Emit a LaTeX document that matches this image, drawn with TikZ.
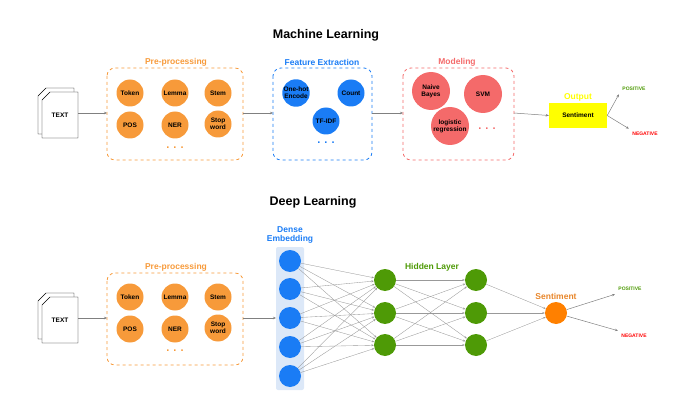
\documentclass[tikz,border=0pt]{standalone}
\usepackage{fontspec}
\setmainfont{Liberation Sans}
\usetikzlibrary{arrows.meta,calc}
\definecolor{mlorange}{HTML}{F79A3A}
\definecolor{mlblue}{HTML}{1A7CF5}
\definecolor{mlred}{HTML}{F46A6A}
\definecolor{mlgreen}{HTML}{4E9A06}
\definecolor{mlyellow}{HTML}{FFFF00}
\definecolor{bandblue}{HTML}{DCE8F8}
\definecolor{darkorange}{HTML}{E8862A}
\tikzset{
  ball/.style={circle,inner sep=0pt,minimum size=#1,align=center,font=\fontsize{6.5}{7}\selectfont\bfseries},
  grouper/.style={draw=#1,dashed,thick,rounded corners=8pt},
  conn/.style={draw=gray,-{Stealth[length=3pt,width=2.5pt]},line width=0.5pt},
  net/.style={draw=gray!80,line width=0.35pt,-{Stealth[length=2.5pt,width=2pt]}},
  tag/.style={font=\fontsize{8.5}{9}\selectfont\bfseries},
  small/.style={font=\fontsize{5}{5.5}\selectfont\bfseries},
  dots/.style={font=\fontsize{11}{11}\selectfont\bfseries}
}
\newcommand{\docicon}[2]{%
  \fill[white,draw=black] ($(#1)+(-14,-25)$) -- ($(#1)+(14,-25)$) -- ($(#1)+(14,21)$) -- ($(#1)+(-22,21)$) -- ($(#1)+(-22,-17)$) -- cycle;
  \fill[white,draw=black] ($(#1)+(-10,-21)$) -- ($(#1)+(18,-21)$) -- ($(#1)+(18,25)$) -- ($(#1)+(-18,25)$) -- ($(#1)+(-18,-13)$) -- cycle;
  \node[ball=1pt] (#2) at ($(#1)+(0,2)$) {TEXT};}
\begin{document}
\begin{tikzpicture}[x=1pt,y=-1pt]
\useasboundingbox (0,0) rectangle (691,401);

% Titles
\node[font=\fontsize{12.5}{13}\selectfont\bfseries] (mltitle) at (326,35) {Machine Learning};
\node[font=\fontsize{12.5}{13}\selectfont\bfseries] (dltitle) at (313,202) {Deep Learning};

%%% Machine learning row
\docicon{60,113}{mltext}
\coordinate (mldocR) at (78,113);

% Pre-processing
\draw[grouper=mlorange] (107,68) rectangle (243,160);
\node[tag,text=mlorange] (mlpre) at (176,62) {Pre-processing};
\foreach \name/\lab/\x/\y in {tok/Token/130/93,lem/Lemma/175/93,stem/Stem/218/93,pos/POS/130/125,ner/NER/175/125,stop/Stop\\word/218/124}
  \node[ball=27pt,fill=mlorange] (ml\name) at (\x,\y) {\lab};
\node[dots,text=mlorange] (mldots) at (175,148) {. . .};

% Feature extraction
\draw[grouper=mlblue] (273,68) rectangle (372,160);
\node[tag,text=mlblue] (mlfeat) at (322,62) {Feature Extraction};
\node[ball=27pt,fill=mlblue] (onehot) at (296,93) {One-hot\\Encode};
\node[ball=27pt,fill=mlblue] (count) at (351,93) {Count};
\node[ball=27pt,fill=mlblue] (tfidf) at (326,121) {TF-IDF};
\node[dots,text=mlblue] (featdots) at (326,143) {. . .};

% Modeling
\draw[grouper=mlred] (403,68) rectangle (514,160);
\node[tag,text=mlred] (mlmod) at (457,62) {Modeling};
\node[ball=38pt,fill=mlred] (bayes) at (431,91) {Naive\\Bayes};
\node[ball=38pt,fill=mlred] (svm) at (483,94) {SVM};
\node[ball=38pt,fill=mlred] (logreg) at (450,126) {logistic\\regression};
\node[dots,text=mlred] (moddots) at (487,129) {. . .};

% Output
\node[fill=mlyellow,minimum width=58pt,minimum height=25pt,font=\fontsize{6.5}{7}\selectfont\bfseries] (mlsent) at (578,115.5) {Sentiment};
\node[tag,text=mlyellow] (mlout) at (578,97) {Output};
\node[small,text=mlgreen] (mlpos) at (634,89) {POSITIVE};
\node[small,text=red] (mlneg) at (645,134) {NEGATIVE};

% arrows
\draw[conn] (mldocR) -- (107,113);
\draw[conn] (243,113) -- (273,113);
\draw[conn] (372,113) -- (403,113);
\draw[conn] (514,113) -- (mlsent.west);
\draw[conn] (mlsent.east) -- (mlpos.south west);
\draw[conn] (mlsent.east) -- (mlneg.north west);

%%% Deep learning row
\docicon{60,318}{dltext}
\coordinate (dldocR) at (78,318);

% Pre-processing
\draw[grouper=mlorange] (107,273) rectangle (243,365);
\node[tag,text=mlorange] (dlpre) at (176,267) {Pre-processing};
\foreach \name/\lab/\x/\y in {tok/Token/130/297,lem/Lemma/175/297,stem/Stem/218/297,pos/POS/130/329,ner/NER/175/329,stop/Stop\\word/218/328}
  \node[ball=27pt,fill=mlorange] (dl\name) at (\x,\y) {\lab};
\node[dots,text=mlorange] (dldots) at (175,351) {. . .};

% Dense embedding
\fill[bandblue,rounded corners=2pt] (276,247) rectangle (304,390);
\node[tag,text=mlblue,align=center] (embtag) at (290,235) {Dense\\Embedding};
\foreach \i/\y in {1/261,2/289,3/318,4/347,5/376}
  \node[ball=22pt,fill=mlblue] (emb\i) at (290,\y) {};

% Hidden layers
\node[tag,text=mlgreen] (hidtag) at (432,267) {Hidden Layer};
\foreach \i/\y in {1/280,2/313,3/345}{
  \node[ball=22pt,fill=mlgreen] (ha\i) at (385,\y) {};
  \node[ball=22pt,fill=mlgreen] (hb\i) at (476,\y) {};
}
\node[ball=22pt,fill=orange] (dlsent) at (556,313) {};
\node[tag,text=darkorange] (senttag) at (556,296) {Sentiment};
\node[small,text=mlgreen] (dlpos) at (630,289) {POSITIVE};
\node[small,text=red] (dlneg) at (634,336) {NEGATIVE};

% connections
\draw[conn] (dldocR) -- (107,318);
\draw[conn] (243,318) -- (276,318);
\foreach \i in {1,...,5}
  \foreach \j in {1,2,3}
    \draw[net] (emb\i) -- (ha\j);
\foreach \i in {1,2,3}{
  \foreach \j in {1,2,3}
    \draw[net] (ha\i) -- (hb\j);
  \draw[net] (hb\i) -- (dlsent);
}
\draw[conn] (dlsent) -- (dlpos.south west);
\draw[conn] (dlsent) -- (dlneg.north west);

\end{tikzpicture}
\end{document}
